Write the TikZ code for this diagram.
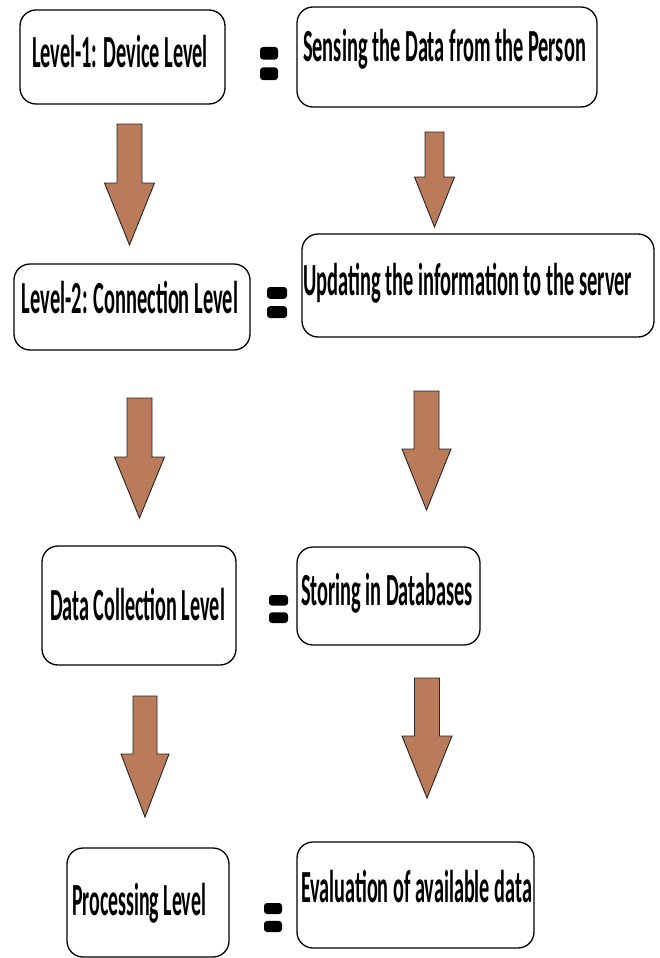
\documentclass[tikz,border=0pt]{standalone}
\usepackage{fontspec}
\usepackage{graphicx}
\newfontfamily\hand{Carlito}
\definecolor{arrowfill}{RGB}{185,123,89}
\tikzset{
  lvlbox/.style={draw=black, line width=1.3pt, rounded corners=16pt, inner sep=0pt, fill=white},
  lbl/.style={anchor=base, inner sep=0pt, font=\hand\bfseries\fontsize{46}{50}\selectfont},
  blockarrow/.style={fill=arrowfill, draw=black!85, line width=0.9pt, line join=miter},
  eqbar/.style={fill=black, rounded corners=3pt}
}
\newcommand\blockarr[6]{%
  \draw[blockarrow] ({#1-#2},#3) -- ({#1+#2},#3) -- ({#1+#2},#4) -- ({#1+#5},#4)
    -- (#1,#6) -- ({#1-#5},#4) -- ({#1-#2},#4) -- cycle;}
\newcommand\eqsign[5]{% x1 x2 y1 y2 y3 y4
  \fill[eqbar] (#1,#3) rectangle (#2,{#3+(#4-#3)*0.38});
  \fill[eqbar] (#1,{#4-(#4-#3)*0.38}) rectangle (#2,#4);}
\begin{document}
\begin{tikzpicture}[x=1pt,y=-1pt]
\useasboundingbox[fill=white] (0,0) rectangle (660,958);

% boxes
\node[lvlbox, minimum width=205pt, minimum height=94pt]  (b1) at (122.5,57) {};
\node[lvlbox, minimum width=300pt, minimum height=100pt] (b2) at (447,57) {};
\node[lvlbox, minimum width=236pt, minimum height=86pt]  (b3) at (132,307) {};
\node[lvlbox, minimum width=352pt, minimum height=103pt] (b4) at (478,285.5) {};
\node[lvlbox, minimum width=194pt, minimum height=119pt] (b5) at (139,605.5) {};
\node[lvlbox, minimum width=183pt, minimum height=98pt]  (b6) at (388.5,596) {};
\node[lvlbox, minimum width=162pt, minimum height=109pt] (b7) at (148,902.5) {};
\node[lvlbox, minimum width=237pt, minimum height=106pt] (b8) at (415.5,895) {};

% labels
\node[lbl] (t1) at (120,67)    {\resizebox{176pt}{\height}{Level-1: Device Level}};
\node[lbl] (t2) at (444.5,62)  {\resizebox{283pt}{\height}{Sensing the Data from the Person}};
\node[lbl] (t3) at (130,313)   {\resizebox{216pt}{\height}{Level-2: Connection Level}};
\node[lbl] (t4) at (467.5,295) {\resizebox{329pt}{\height}{Updating the information to the server}};
\node[lbl] (t5) at (137.5,620) {\resizebox{175pt}{\height}{Data Collection Level}};
\node[lbl] (t6) at (387,605)   {\resizebox{172pt}{\height}{Storing in Databases}};
\node[lbl] (t7) at (139,915)   {\resizebox{134pt}{\height}{Processing Level}};
\node[lbl] (t8) at (416.5,902) {\resizebox{231pt}{\height}{Evaluation of available data}};

% equals signs
\eqsign{260}{278}{47}{80}{}
\eqsign{267}{287}{287}{318}{}
\eqsign{269}{288}{595}{623}{}
\eqsign{264}{282}{903}{932}{}

% block arrows: cx, shaft half, top, head y, wing half, tip
\blockarr{129.5}{12.5}{124}{183}{25}{245}
\blockarr{434.5}{9.5}{132}{177}{20}{227}
\blockarr{139.5}{12.5}{398}{457}{25}{518}
\blockarr{426.5}{12.5}{391}{449}{24.5}{510}
\blockarr{145}{12}{696}{754}{24}{817}
\blockarr{427}{12.5}{678}{736}{25}{798}
\end{tikzpicture}
\end{document}
